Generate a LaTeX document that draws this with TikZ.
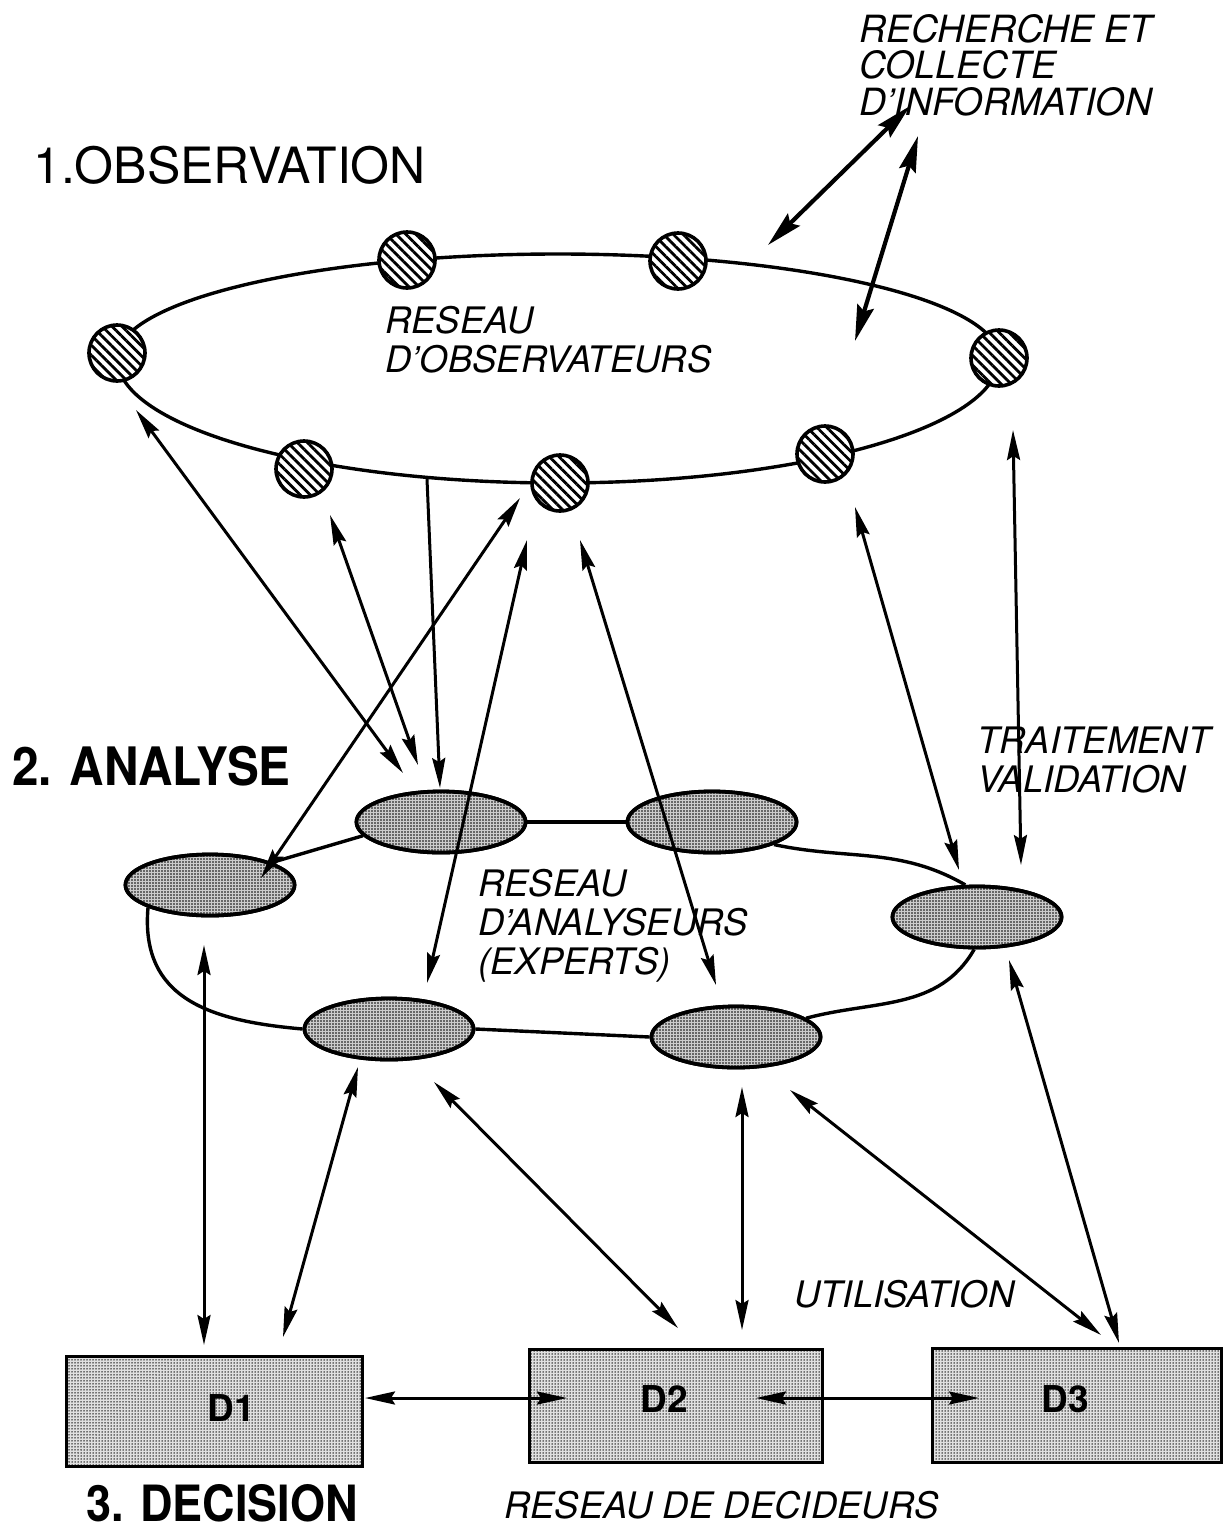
\documentclass[tikz,border=0pt]{standalone}
\usepackage{fontspec}
\setmainfont{TeX Gyre Heros}
\newfontfamily\ttlfont[FakeStretch=0.9]{TeX Gyre Heros}
\usetikzlibrary{arrows.meta,patterns.meta,shapes.geometric}
\begin{document}
\begin{tikzpicture}[x=1pt,y=-1pt,
  ringline/.style={line width=3.4pt},
  obs/.style={circle, draw, line width=3.6pt, minimum size=56pt, inner sep=0pt,
    preaction={fill=white}, pattern={Lines[angle=-45,distance=7pt,line width=2.8pt]}},
  ana/.style={ellipse, draw, line width=3.8pt, minimum width=169pt, minimum height=61pt,
    inner sep=0pt, fill=black!20, postaction={pattern={Dots[distance=3pt,radius=0.9pt]}}},
  dbox/.style={rectangle, draw, line width=3.4pt, inner sep=0pt, fill=black!12,
    postaction={pattern={Dots[distance=3pt,radius=0.75pt]}}},
  tip/.tip={Stealth[length=30pt,width=13pt,inset=4pt]},
  bigtip/.tip={Stealth[length=36pt,width=17pt,inset=5pt]},
  arr/.style={line width=3pt, tip-tip},
  arrone/.style={line width=3pt, -tip},
  bigarr/.style={line width=4.2pt, bigtip-bigtip},
  lbl/.style={anchor=base west, inner sep=0pt, font=\fontsize{36.5}{40}\selectfont\itshape},
  toplbl/.style={anchor=base west, inner sep=0pt, font=\fontsize{37.5}{40}\selectfont\itshape},
  dlbl/.style={inner sep=0pt, font=\bfseries\fontsize{37}{40}\selectfont},
]
\fill[white] (0,0) rectangle (1226,1531);
\useasboundingbox (0,0) rectangle (1226,1531);

% ---- observation ring
\draw[ringline] (117,358) arc[start angle=180, end angle=0, x radius=441pt, y radius=104pt];
\draw[ringline] (999,358) arc[start angle=0, end angle=-180, x radius=441pt, y radius=125pt];

% ---- analyser ovals (placed first to get anchors)
\path (441,822) node[ana] (a1) {}
      (210,885) node[ana] (a2) {}
      (389,1029) node[ana] (a3) {}
      (736,1037) node[ana] (a4) {}
      (712,822) node[ana] (a5) {}
      (977,917) node[ana] (a6) {};

% ---- analyser ring
\draw[ringline] (a2.20) -- (a1.190);
\draw[ringline] (a1.east) -- (a5.west);
\draw[ringline] (a5.-20) to[out=-12,in=150] (a6.110);
\draw[ringline] (a6.-95) to[out=-120,in=15] (a4.15);
\draw[ringline] (a4.west) -- (a3.east);
\draw[ringline] (a3.west) to[out=175,in=-95,looseness=1.2] (a2.200);
% ovals again, over the ring lines
\foreach \n in {a1,a2,a3,a4,a5,a6} { \node[ana] at (\n) {}; }

% ---- observer circles
\node[obs] (c1) at (117,353) {};
\node[obs] (c2) at (407,260) {};
\node[obs] (c3) at (678,261) {};
\node[obs] (c4) at (999,358) {};
\node[obs] (c5) at (825,454) {};
\node[obs] (c6) at (560,483) {};
\node[obs] (c7) at (304,469) {};

% ---- decision boxes
\node[dbox, minimum width=296pt, minimum height=110pt] (d1) at (214.5,1411.5) {};
\node[dbox, minimum width=293pt, minimum height=113pt] (d2) at (676,1406) {};
\node[dbox, minimum width=289pt, minimum height=114pt] (d3) at (1077,1405.5) {};
\node[dlbl] (d1l) at (231,1408) {D1};
\node[dlbl] (d2l) at (664,1399) {D2};
\node[dlbl] (d3l) at (1065,1399) {D3};

% ---- arrow end points
\coordinate (r1a) at (768,245); \coordinate (r1b) at (910,106);
\coordinate (r2a) at (918,136); \coordinate (r2b) at (855,341);
\coordinate (e3a) at (136,410); \coordinate (e3b) at (403,773);
\coordinate (e4a) at (330,515); \coordinate (e4b) at (418,765);
\coordinate (e5a) at (427,479); \coordinate (e5b) at (440,788);
\coordinate (e6a) at (261,878); \coordinate (e6b) at (520,498);
\coordinate (e7a) at (527,540); \coordinate (e7b) at (427,983);
\coordinate (e8a) at (580,540); \coordinate (e8b) at (716,985);
\coordinate (e9a) at (855,507); \coordinate (e9b) at (959,870);
\coordinate (e10a) at (1013,430); \coordinate (e10b) at (1021,865);
\coordinate (e11a) at (204,945); \coordinate (e11b) at (204,1345);
\coordinate (e12a) at (358,1067); \coordinate (e12b) at (283,1337);
\coordinate (e13a) at (434,1082); \coordinate (e13b) at (678,1328);
\coordinate (e14a) at (742,1087); \coordinate (e14b) at (742,1330);
\coordinate (e15a) at (790,1090); \coordinate (e15b) at (1101,1335);
\coordinate (e16a) at (1009,960); \coordinate (e16b) at (1119,1343);
\coordinate (e17a) at (365,1398); \coordinate (e17b) at (567,1398);
\coordinate (e18a) at (756,1398); \coordinate (e18b) at (979,1398);

% ---- arrows
\draw[bigarr] (r1a) -- (r1b);
\draw[bigarr] (r2a) -- (r2b);
\draw[arr] (e3a) -- (e3b);
\draw[arr] (e4a) -- (e4b);
\draw[arrone] (e5a) -- (e5b);
\draw[arr] (e6a) -- (e6b);
\draw[arr] (e7a) -- (e7b);
\draw[arr] (e8a) -- (e8b);
\draw[arr] (e9a) -- (e9b);
\draw[arr] (e10a) -- (e10b);
\draw[arr] (e11a) -- (e11b);
\draw[arr] (e12a) -- (e12b);
\draw[arr] (e13a) -- (e13b);
\draw[arr] (e14a) -- (e14b);
\draw[arr] (e15a) -- (e15b);
\draw[arr] (e16a) -- (e16b);
\draw[arr] (e17a) -- (e17b);
\draw[arr] (e18a) -- (e18b);

% ---- titles
\node[anchor=base west, inner sep=0pt, font=\fontsize{50}{60}\selectfont] (t1) at (33,183) {1.OBSERVATION};
\node[anchor=base west, inner sep=0pt, font=\ttlfont\bfseries\fontsize{53}{60}\selectfont] (t2) at (12,785) {2. ANALYSE};
\node[anchor=base west, inner sep=0pt, font=\ttlfont\bfseries\fontsize{50}{60}\selectfont] (t3) at (86,1521) {3. DECISION};

% ---- labels
\node[toplbl] (rc1) at (859,42) {RECHERCHE ET};
\node[toplbl] (rc2) at (859,78) {COLLECTE};
\node[toplbl] (rc3) at (859,115) {D'INFORMATION};
\node[lbl] (ob1) at (385,333) {RESEAU};
\node[lbl] (ob2) at (385,372) {D'OBSERVATEURS};
\node[lbl] (an1) at (478,896) {RESEAU};
\node[lbl] (an2) at (478,935) {D'ANALYSEURS};
\node[lbl] (an3) at (478,974) {(EXPERTS)};
\node[lbl] (tv1) at (977,753) {TRAITEMENT};
\node[lbl] (tv2) at (977,792) {VALIDATION};
\node[lbl] (ut) at (794,1307) {UTILISATION};
\node[lbl] (rd) at (504,1518) {RESEAU DE DECIDEURS};
\end{tikzpicture}
\end{document}
